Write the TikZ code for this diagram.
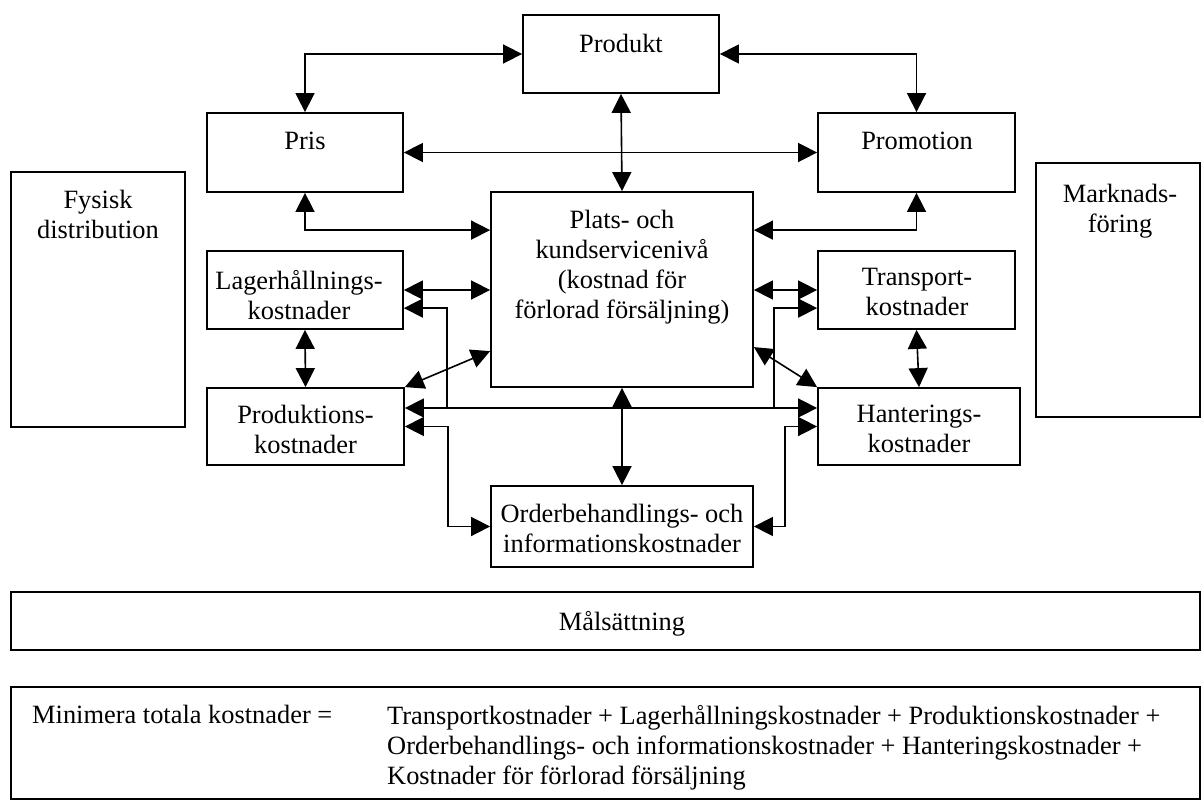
\documentclass[tikz,border=0pt]{standalone}
\usepackage{fontspec}
\setmainfont{Liberation Serif}
\usetikzlibrary{arrows.meta,calc}
\begin{document}
\begin{tikzpicture}[x=1pt,y=-1pt,
  box/.style={draw, line width=1.8pt, inner sep=0pt},
  txt/.style={anchor=north, inner sep=0pt, align=center, font=\fontsize{26.4}{30}\selectfont},
  link/.style={line width=1.6pt, {Triangle[length=19pt,width=19pt]}-{Triangle[length=19pt,width=19pt]}},
  tolink/.style={line width=1.6pt, -{Triangle[length=19pt,width=19pt]}}]
\useasboundingbox (0,0) rectangle (1201,800);

% boxes
\node[box, minimum width=196pt, minimum height=78pt]  (produkt)   at (621,54)     {};
\node[box, minimum width=196pt, minimum height=79pt]  (pris)      at (305,152.5)  {};
\node[box, minimum width=197pt, minimum height=79pt]  (promo)     at (916.5,152.5){};
\node[box, minimum width=262pt, minimum height=195pt] (plats)     at (622,289.5)  {};
\node[box, minimum width=196pt, minimum height=78pt]  (lager)     at (305,290)    {};
\node[box, minimum width=197pt, minimum height=78pt]  (transport) at (916.5,290)  {};
\node[box, minimum width=197pt, minimum height=77pt]  (prod)      at (305.5,426.5){};
\node[box, minimum width=202pt, minimum height=77pt]  (hant)      at (919,426.5)  {};
\node[box, minimum width=262pt, minimum height=81pt]  (order)     at (622,526.5)  {};
\node[box, minimum width=174pt, minimum height=255pt] (fysisk)    at (98,299.5)   {};
\node[box, minimum width=164pt, minimum height=254pt] (marknad)   at (1118,290)   {};
\node[box, minimum width=1189pt, minimum height=58pt] (mal)       at (605.5,621)  {};
\node[box, minimum width=1189pt, minimum height=112pt](formel)    at (605.5,743)  {};

% box texts
\node[txt] at (621,34)    {Produkt};
\node[txt] at (305,132)   {Pris};
\node[txt] at (917,132)   {Promotion};
\node[txt] at (622,210)   {Plats- och\\kundservicenivå\\(kostnad för\\förlorad försäljning)};
\node[txt] at (299,270)   {Lagerhållnings-\\kostnader};
\node[txt] at (917,268)   {Transport-\\kostnader};
\node[txt] at (305.5,405) {Produktions-\\kostnader};
\node[txt] at (919,405)   {Hanterings-\\kostnader};
\node[txt] at (622,504)   {Orderbehandlings- och\\informationskostnader};
\node[txt] at (98,190)    {Fysisk\\distribution};
\node[txt] at (1120,184)  {Marknads-\\föring};
\node[txt, anchor=base] at (622,630) {Målsättning};
\node[txt, anchor=base west] at (32,723) {Minimera totala kostnader =};
\node[txt, anchor=north west, align=left] at (387,705)
  {Transportkostnader + Lagerhållningskostnader + Produktionskostnader +\\
   Orderbehandlings- och informationskostnader + Hanteringskostnader +\\
   Kostnader för förlorad försäljning};

% junctions of the cost bus
\coordinate (jl) at (447,408);
\coordinate (jr) at (774,408);

% marketing mix
\draw[link] (produkt.west) -| (pris.north);
\draw[link] (produkt.east) -| (promo.north);
\draw[link] (pris.east) -- (promo.west);
\draw[link] (produkt.south) -- (plats.north);
\draw[link] (pris.south) |- ([yshift=-39pt]plats.north west);
\draw[link] (promo.south) |- ([yshift=-39pt]plats.north east);

% cost boxes
\draw[link] (lager.east) -- (lager.east -| plats.west);
\draw[link] (transport.west) -- (transport.west -| plats.east);
\draw[link] (lager.south) -- (prod.north);
\draw[link] (transport.south) -- (hant.north);
\draw[link] ([yshift=-160pt]plats.north west) -- (prod.north east);
\draw[link] ([yshift=-156pt]plats.north east) -- (hant.north west);
\draw[link] (prod.east |- jl) -- (hant.west |- jl);
\draw[tolink] (jl) |- ([yshift=-58pt]lager.north east);
\draw[tolink] (jr) |- ([yshift=-58pt]transport.north west);
\draw[link] (prod.east) -- ++(43,0) |- (order.west);
\draw[link] (hant.west) -- ++(-32,0) |- (order.east);
\draw[link] (plats.south) -- (order.north);
\end{tikzpicture}
\end{document}
